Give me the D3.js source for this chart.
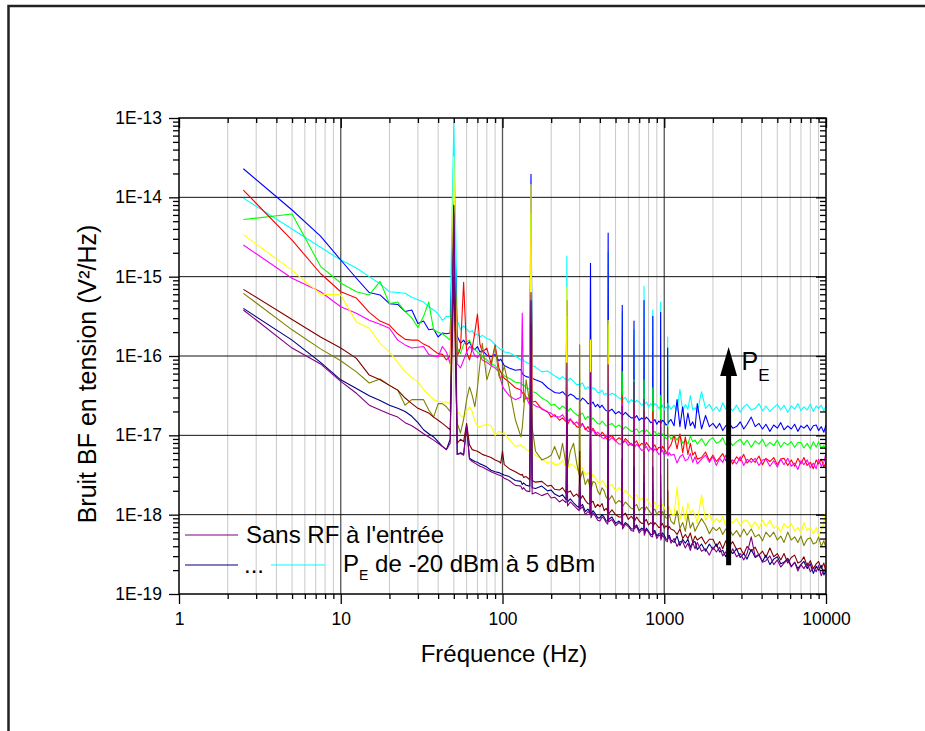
<!DOCTYPE html>
<html>
<head>
<meta charset="utf-8">
<script src="https://cdn.jsdelivr.net/npm/d3@7"></script>
<style>
  html, body { margin: 0; padding: 0; background: #fff; }
  svg { display: block; font-family: "Liberation Sans", Arial, Helvetica, sans-serif; }
</style>
</head>
<body>
<svg id="chart" width="925" height="731"></svg>
<script>
// ---------------- DATA (frequencies in Hz, spectra as log10 of V²/Hz) ----------------
const freqs = [
  2.5,5,7.5,10,12.5,15,17.5,20,22.5,25,27.5,30,32.5,35,37.5,40,42.5,45,47.5,50,52.5,55,57.5,60,62.5,65,67.5,70,72.5,75,80,85,90,95,97.5,100,102.5,
  110,120,130,132.5,135,140,147.5,150,152.5,160,
  175,190,200,210,225,235, 247.5,250,252.5,262.5,275,287.5, 297.5,300,302.5,312.5,325,337.5, 347.5,350,352.5,362.5,375,387.5, 400,412.5,425,437.5,
  447.5,450,452.5,475,500,525, 547.5,550,552.5,575,600,625, 647.5,650,652.5,675,700,725, 747.5,750,752.5,775,800,825,
  847.5,850,852.5,875,900,925, 947.5,950,952.5,975,1000,1025, 1047.5,1050,1052.5,1075,1100,
  1150,1200,1250,1300,1350,1400,1450,1500,1550,1600,1700,1800,1900,2000,2100,2200,2300,2400,2500,2650,2800,2950,3100,3250,3450,3650,3850,4050,4250,4500,4750,5000,5250,5500,5800,6100,6400,6700,7000,7300,7650,8000,8350,8700,9000,9350,9700,10000
];

// Sans RF à l'entrée
const logPurple = [
  -15.42,-15.90,-16.10,-16.32,-16.47,-16.62,-16.68,-16.73,-16.77,-16.84,-16.88,-16.93,-16.98,-17.02,-17.06,-17.10,-17.14,-17.18,-17.10,-14.20,-17.24,-17.23,-17.25,-16.89,-17.30,-17.33,-17.35,-17.37,-17.39,-17.40,-17.43,-17.46,-17.48,-17.50,-17.51,-17.52,-17.54,
  -17.57,-17.63,-17.64,-17.68,-17.66,-17.70,-17.71,-15.20,-17.74,-17.72,
  -17.76,-17.73,-17.79,-17.78,-17.84,-17.81, -17.85,-16.09,-17.89,-17.84,-17.88,-17.92, -17.95,-17.60,-17.93,-17.90,-18.00,-17.96, -17.99,-16.21,-18.04,-17.98,-18.02,-18.07, -18.08,-18.03,-18.05,-18.10,
  -18.12,-16.11,-18.09,-18.06,-18.14,-18.10, -18.13,-16.63,-18.18,-18.12,-18.15,-18.20, -18.21,-16.33,-18.18,-18.15,-18.23,-18.19, -18.20,-16.55,-18.26,-18.19,-18.22,-18.27,
  -18.28,-16.84,-18.25,-18.22,-18.30,-18.26, -18.27,-16.81,-18.32,-18.26,-18.29,-18.33, -18.34,-17.30,-18.31,-18.28,-18.36,
  -18.30,-18.40,-18.34,-18.34,-18.42,-18.36,-18.45,-18.35,-18.43,-18.35,-18.46,-18.43,-18.51,-18.41,-18.47,-18.41,-18.52,-18.47,-18.55,-18.43,-18.53,-18.49,-18.57,-18.49,-18.28,-18.53,-18.50,-18.60,-18.58,-18.52,-18.63,-18.57,-18.66,-18.61,-18.57,-18.66,-18.60,-18.71,-18.63,-18.68,-18.61,-18.72,-18.67,-18.72,-18.64,-18.77,-18.69,-18.73
];
// P_E = -20 dBm
const logNavy = [
  -15.40,-15.80,-16.08,-16.30,-16.41,-16.50,-16.56,-16.62,-16.66,-16.70,-16.76,-16.84,-16.93,-16.98,-17.02,-17.08,-17.14,-17.18,-17.05,-14.10,-17.24,-17.22,-17.24,-16.89,-17.29,-17.31,-17.33,-17.34,-17.36,-17.37,-17.40,-17.44,-17.46,-17.47,-17.48,-17.49,-17.50,
  -17.52,-17.57,-17.58,-17.62,-17.60,-17.63,-17.64,-15.30,-17.66,-17.67,
  -17.64,-17.70,-17.69,-17.74,-17.77,-17.75, -17.81,-16.80,-17.84,-17.80,-17.85,-17.89, -17.91,-17.50,-17.90,-17.87,-17.96,-17.93, -17.97,-16.90,-18.00,-17.95,-17.99,-18.04, -18.04,-18.00,-18.03,-18.08,
  -18.08,-17.00,-18.06,-18.03,-18.11,-18.08, -18.12,-17.30,-18.15,-18.10,-18.13,-18.18, -18.18,-17.40,-18.16,-18.13,-18.20,-18.17, -18.19,-17.60,-18.23,-18.17,-18.21,-18.25,
  -18.25,-17.70,-18.22,-18.20,-18.27,-18.24, -18.24,-17.80,-18.29,-18.23,-18.26,-18.31, -18.31,-17.90,-18.28,-18.26,-18.32,
  -18.35,-18.27,-18.39,-18.31,-18.36,-18.31,-18.41,-18.35,-18.34,-18.44,-18.37,-18.46,-18.37,-18.44,-18.37,-18.47,-18.45,-18.53,-18.43,-18.49,-18.43,-18.54,-18.49,-18.56,-18.44,-18.54,-18.51,-18.59,-18.51,-18.63,-18.56,-18.53,-18.62,-18.60,-18.55,-18.65,-18.60,-18.68,-18.63,-18.59,-18.68,-18.62,-18.74,-18.65,-18.70,-18.64,-18.76,-18.70
];
const logWine = [
  -15.16,-15.54,-15.76,-15.90,-16.03,-16.24,-16.30,-16.37,-16.43,-16.53,-16.60,-16.66,-16.69,-16.72,-16.77,-16.81,-16.85,-16.89,-16.93,-15.00,-17.10,-17.05,-17.08,-16.85,-17.12,-17.18,-17.19,-17.20,-17.22,-17.24,-17.26,-17.28,-17.31,-17.33,-17.35,-17.20,-17.37,
  -17.42,-17.46,-17.50,-17.49,-17.53,-17.52,-17.56,-15.60,-17.57,-17.59,
  -17.58,-17.64,-17.63,-17.68,-17.69,-17.66, -17.73,-16.50,-17.72,-17.70,-17.77,-17.74, -17.78,-17.20,-17.81,-17.76,-17.82,-17.86, -17.87,-16.60,-17.85,-17.83,-17.91,-17.87, -17.90,-17.86,-17.95,-17.92,
  -17.96,-16.70,-17.99,-17.94,-18.00,-18.03, -18.03,-16.90,-18.01,-17.98,-18.06,-18.02, -18.06,-17.00,-18.09,-18.03,-18.08,-18.11, -18.11,-17.20,-18.09,-18.06,-18.13,-18.10,
  -18.12,-17.40,-18.15,-18.10,-18.13,-18.16, -18.16,-17.50,-18.14,-18.11,-18.17,-18.14, -18.16,-17.70,-18.19,-18.15,-18.18,
  -18.20,-18.25,-18.18,-18.30,-18.25,-18.30,-18.23,-18.35,-18.27,-18.32,-18.28,-18.37,-18.31,-18.31,-18.40,-18.34,-18.43,-18.33,-18.41,-18.34,-18.44,-18.42,-18.50,-18.40,-18.46,-18.41,-18.51,-18.46,-18.54,-18.42,-18.53,-18.49,-18.57,-18.49,-18.61,-18.54,-18.51,-18.61,-18.59,-18.53,-18.65,-18.58,-18.68,-18.62,-18.59,-18.68,-18.61,-18.73
];
const logOlive = [
  -15.21,-15.67,-15.91,-16.06,-16.20,-16.34,-16.29,-16.37,-16.43,-16.62,-16.55,-16.55,-16.55,-16.68,-16.77,-16.60,-16.60,-16.64,-16.70,-14.80,-16.85,-16.97,-16.80,-16.55,-16.39,-16.50,-16.64,-16.40,-16.10,-15.84,-16.30,-16.13,-15.88,-16.25,-16.30,-16.20,-16.13,
  -16.40,-16.80,-17.02,-16.90,-16.70,-16.30,-16.60,-15.97,-16.90,-17.20,
  -17.31,-17.28,-17.25,-17.14,-17.30,-17.10, -17.38,-16.90,-17.40,-17.20,-17.10,-17.35, -17.50,-15.86,-17.55,-17.45,-17.62,-17.55, -17.66,-16.90,-17.68,-17.58,-17.60,-17.70, -17.75,-17.66,-17.70,-17.78,
  -17.80,-17.00,-17.82,-17.76,-17.86,-17.82, -17.85,-17.30,-17.90,-17.84,-17.88,-17.92, -17.93,-17.40,-17.90,-17.87,-17.95,-17.91, -17.92,-17.50,-17.97,-17.90,-17.94,-17.98,
  -17.99,-17.60,-17.95,-17.93,-18.00,-17.96, -17.97,-17.60,-18.02,-17.96,-18.00,-18.04, -18.05,-17.70,-18.02,-18.00,-18.08,
  -18.12,-17.95,-18.17,-18.10,-18.21,-18.00,-18.17,-18.10,-18.21,-18.15,-18.05,-18.13,-18.24,-18.16,-18.20,-18.16,-18.25,-18.18,-18.17,-18.26,-18.20,-18.28,-18.18,-18.26,-18.18,-18.28,-18.25,-18.33,-18.22,-18.28,-18.22,-18.32,-18.27,-18.35,-18.22,-18.32,-18.28,-18.35,-18.27,-18.39,-18.31,-18.29,-18.37,-18.35,-18.28,-18.40,-18.33,-18.42
];
const logYellow = [
  -14.47,-14.92,-15.22,-15.23,-15.57,-15.65,-15.84,-15.95,-16.08,-16.20,-16.27,-16.33,-16.42,-16.49,-16.55,-16.57,-16.58,-16.58,-16.60,-13.49,-16.70,-16.75,-16.78,-16.70,-16.64,-16.70,-16.82,-16.88,-16.90,-16.88,-16.86,-16.88,-17.00,-16.95,-16.96,-16.98,-16.97,
  -17.05,-17.14,-17.12,-17.15,-17.14,-17.18,-17.20,-13.84,-17.22,-17.25,
  -17.30,-17.35,-17.33,-17.37,-17.36,-17.32, -17.40,-15.13,-17.41,-17.36,-17.38,-17.43, -17.46,-17.20,-17.43,-17.41,-17.50,-17.47, -17.50,-15.80,-17.55,-17.49,-17.54,-17.58, -17.62,-17.57,-17.60,-17.65,
  -17.67,-15.55,-17.64,-17.62,-17.70,-17.66, -17.70,-16.80,-17.75,-17.69,-17.74,-17.78, -17.80,-17.00,-17.77,-17.75,-17.83,-17.79, -17.82,-17.10,-17.87,-17.80,-17.84,-17.89,
  -17.90,-17.20,-17.87,-17.84,-17.92,-17.88, -17.89,-17.30,-17.94,-17.87,-17.91,-17.96, -17.97,-17.40,-17.93,-17.90,-17.98,
  -18.01,-17.65,-18.06,-17.90,-18.08,-17.85,-17.98,-17.95,-18.00,-18.11,-17.75,-18.07,-17.99,-18.11,-18.05,-18.10,-18.02,-18.14,-18.06,-18.10,-18.05,-18.14,-18.07,-18.07,-18.16,-18.09,-18.18,-18.07,-18.15,-18.07,-18.17,-18.14,-18.22,-18.11,-18.17,-18.11,-18.21,-18.16,-18.23,-18.10,-18.20,-18.16,-18.24,-18.16,-18.27,-18.19,-18.10,-17.92
];
const logRed = [
  -13.91,-14.54,-14.96,-15.19,-15.27,-15.45,-15.56,-15.61,-15.72,-15.79,-15.80,-15.80,-15.85,-15.88,-15.93,-15.97,-15.98,-16.05,-16.00,-14.50,-16.00,-15.90,-15.07,-15.95,-16.05,-15.90,-15.70,-15.47,-15.85,-15.95,-15.90,-16.10,-15.86,-16.15,-16.20,-16.25,-16.28,
  -16.33,-16.40,-16.43,-16.47,-16.46,-16.52,-16.55,-14.50,-16.58,-16.57,
  -16.67,-16.70,-16.77,-16.74,-16.81,-16.78, -16.83,-15.80,-16.86,-16.80,-16.84,-16.89, -16.90,-16.70,-16.87,-16.85,-16.93,-16.89, -16.94,-16.00,-16.97,-16.91,-16.96,-17.00, -17.01,-16.96,-16.99,-17.04,
  -17.05,-16.00,-17.03,-17.00,-17.07,-17.03, -17.06,-16.50,-17.10,-17.04,-17.08,-17.12, -17.13,-16.60,-17.10,-17.07,-17.14,-17.10, -17.12,-16.70,-17.16,-17.09,-17.13,-17.17,
  -17.18,-16.70,-17.15,-17.12,-17.19,-17.15, -17.16,-16.80,-17.20,-17.14,-17.17,-17.21, -17.22,-16.90,-17.18,-17.15,-17.12,
  -17.00,-17.17,-16.98,-17.22,-17.02,-17.24,-17.10,-17.25,-17.21,-17.30,-17.28,-17.21,-17.32,-17.25,-17.33,-17.28,-17.23,-17.32,-17.25,-17.36,-17.27,-17.32,-17.24,-17.35,-17.29,-17.34,-17.26,-17.37,-17.29,-17.33,-17.28,-17.37,-17.30,-17.29,-17.38,-17.31,-17.39,-17.29,-17.36,-17.28,-17.38,-17.34,-17.42,-17.31,-17.36,-17.30,-17.40,-17.34
];
const logMagenta = [
  -14.60,-15.02,-15.19,-15.38,-15.46,-15.55,-15.60,-15.65,-15.80,-15.86,-15.90,-15.89,-15.88,-15.98,-16.00,-16.01,-15.88,-15.95,-16.10,-14.60,-16.10,-16.15,-16.05,-15.95,-15.88,-15.92,-16.00,-16.02,-15.98,-16.05,-16.08,-16.12,-16.15,-16.20,-16.30,-16.38,-16.42,
  -16.50,-16.55,-16.52,-15.46,-16.58,-16.52,-16.62,-14.60,-16.60,-16.63,
  -16.66,-16.71,-16.72,-16.76,-16.77,-16.74, -16.81,-16.00,-16.82,-16.79,-16.86,-16.83, -16.87,-16.60,-16.90,-16.86,-16.91,-16.95, -16.95,-16.10,-16.95,-16.92,-16.99,-16.96, -16.99,-17.03,-17.04,-17.00,
  -17.04,-16.30,-17.07,-17.03,-17.07,-17.11, -17.11,-16.60,-17.10,-17.07,-17.13,-17.10, -17.13,-16.70,-17.16,-17.11,-17.15,-17.19, -17.18,-16.80,-17.17,-17.14,-17.20,-17.16,
  -17.19,-16.80,-17.21,-17.17,-17.20,-17.24, -17.23,-16.90,-17.21,-17.19,-17.25,-17.22, -17.24,-17.00,-17.26,-17.22,-17.25,
  -17.24,-17.35,-17.27,-17.24,-17.32,-17.30,-17.23,-17.34,-17.27,-17.36,-17.30,-17.25,-17.34,-17.27,-17.38,-17.29,-17.34,-17.25,-17.36,-17.31,-17.36,-17.27,-17.38,-17.30,-17.34,-17.29,-17.38,-17.31,-17.30,-17.39,-17.32,-17.40,-17.30,-17.37,-17.29,-17.39,-17.35,-17.43,-17.32,-17.37,-17.31,-17.41,-17.35,-17.42,-17.30,-17.39,-17.34,-17.22
];
const logGreen = [
  -14.28,-14.21,-14.87,-15.08,-15.19,-15.23,-15.06,-15.34,-15.32,-15.44,-15.52,-15.64,-15.50,-15.32,-15.67,-15.70,-15.72,-15.76,-15.80,-14.30,-15.90,-15.97,-15.85,-15.82,-15.80,-15.88,-15.92,-15.95,-15.98,-16.01,-16.05,-16.10,-16.12,-16.18,-16.20,-16.22,-16.25,
  -16.28,-16.33,-16.34,-16.37,-16.36,-16.40,-16.42,-14.20,-16.45,-16.46,
  -16.53,-16.57,-16.62,-16.61,-16.67,-16.63, -16.67,-15.50,-16.70,-16.66,-16.71,-16.74, -16.76,-16.70,-16.74,-16.72,-16.80,-16.76, -16.79,-15.80,-16.82,-16.78,-16.82,-16.85, -16.86,-16.82,-16.85,-16.88,
  -16.88,-15.60,-16.87,-16.85,-16.90,-16.87, -16.90,-16.20,-16.93,-16.89,-16.92,-16.95, -16.95,-16.30,-16.94,-16.92,-16.97,-16.94, -16.95,-16.30,-16.98,-16.93,-16.96,-16.99,
  -16.99,-16.40,-16.97,-16.95,-17.00,-16.97, -16.99,-16.50,-17.01,-16.98,-17.01,-17.04, -17.04,-16.60,-17.02,-17.00,-17.05,
  -17.00,-17.06,-17.00,-17.10,-17.06,-17.11,-17.01,-17.08,-17.06,-17.11,-17.04,-17.13,-17.06,-17.03,-17.10,-17.08,-17.03,-17.12,-17.06,-17.13,-17.08,-17.05,-17.12,-17.06,-17.15,-17.07,-17.11,-17.05,-17.14,-17.09,-17.13,-17.06,-17.15,-17.09,-17.12,-17.08,-17.15,-17.09,-17.09,-17.16,-17.10,-17.17,-17.08,-17.15,-17.08,-17.16,-17.13,-17.19
];
const logBlue = [
  -13.64,-14.16,-14.49,-14.79,-15.02,-15.20,-15.23,-15.34,-15.35,-15.44,-15.42,-15.59,-15.56,-15.67,-15.66,-15.76,-15.71,-15.72,-15.71,-14.05,-15.75,-15.84,-15.80,-15.86,-15.82,-15.90,-15.92,-15.88,-15.95,-15.93,-15.99,-16.01,-15.98,-16.06,-16.04,-16.08,-16.12,
  -16.15,-16.18,-16.17,-16.22,-16.24,-16.26,-16.27,-13.71,-16.28,-16.30,
  -16.33,-16.40,-16.43,-16.46,-16.47,-16.45, -16.50,-15.30,-16.51,-16.48,-16.50,-16.54, -16.54,-16.55,-16.57,-16.53,-16.56,-16.60, -16.60,-14.83,-16.61,-16.58,-16.64,-16.61, -16.65,-16.62,-16.66,-16.69,
  -16.69,-14.45,-16.70,-16.67,-16.73,-16.70, -16.74,-15.36,-16.75,-16.71,-16.75,-16.78, -16.78,-15.56,-16.79,-16.75,-16.81,-16.78, -16.80,-15.30,-16.81,-16.77,-16.80,-16.84,
  -16.83,-15.50,-16.83,-16.80,-16.86,-16.82, -16.84,-15.45,-16.85,-16.81,-16.83,-16.87, -16.86,-15.90,-16.86,-16.82,-16.80,
  -16.88,-16.55,-16.89,-16.64,-16.92,-16.72,-16.88,-16.83,-16.91,-16.60,-16.92,-16.75,-16.89,-16.85,-16.91,-16.85,-16.94,-16.88,-16.84,-16.91,-16.89,-16.83,-16.92,-16.86,-16.77,-16.89,-16.85,-16.92,-16.86,-16.95,-16.87,-16.91,-16.84,-16.93,-16.88,-16.92,-16.86,-16.95,-16.88,-16.91,-16.87,-16.94,-16.88,-16.87,-16.94,-16.89,-16.96,-16.87
];
// P_E = 5 dBm
const logCyan = [
  -14.01,-14.40,-14.63,-14.79,-14.89,-15.00,-15.09,-15.19,-15.20,-15.21,-15.26,-15.29,-15.32,-15.38,-15.42,-15.47,-15.55,-15.50,-15.50,-13.06,-15.55,-15.67,-15.62,-15.66,-15.70,-15.68,-15.74,-15.72,-15.76,-15.74,-15.78,-15.80,-15.86,-15.90,-15.92,-15.91,-15.95,
  -15.96,-16.00,-16.05,-16.02,-16.06,-16.08,-16.10,-14.40,-16.12,-16.14,
  -16.20,-16.19,-16.22,-16.25,-16.29,-16.26, -16.30,-14.74,-16.31,-16.28,-16.32,-16.36, -16.36,-16.37,-16.36,-16.34,-16.42,-16.39, -16.42,-14.92,-16.42,-16.40,-16.42,-16.46, -16.46,-16.43,-16.49,-16.47,
  -16.49,-14.69,-16.50,-16.47,-16.49,-16.53, -16.54,-15.44,-16.55,-16.52,-16.59,-16.55, -16.58,-15.67,-16.59,-16.56,-16.58,-16.62, -16.60,-15.12,-16.61,-16.58,-16.64,-16.60,
  -16.63,-15.42,-16.63,-16.60,-16.62,-16.66, -16.64,-15.32,-16.65,-16.62,-16.68,-16.64, -16.66,-15.76,-16.66,-16.63,-16.67,
  -16.62,-16.69,-16.42,-16.70,-16.61,-16.67,-16.50,-16.68,-16.65,-16.71,-16.45,-16.66,-16.61,-16.69,-16.64,-16.70,-16.59,-16.67,-16.63,-16.69,-16.62,-16.71,-16.64,-16.61,-16.68,-16.66,-16.60,-16.69,-16.63,-16.70,-16.65,-16.61,-16.68,-16.62,-16.71,-16.63,-16.67,-16.60,-16.69,-16.64,-16.68,-16.61,-16.70,-16.63,-16.66,-16.62,-16.69,-16.63
];

// drawing order (first = bottom) and colours
const seriesLogs   = [logCyan, logBlue, logGreen, logRed, logMagenta, logYellow, logOlive, logWine, logNavy, logPurple];
const seriesColors = ["#00FFFF", "#0000FF", "#00FF00", "#FF0000", "#FF00FF", "#FFFF00", "#808000", "#800000", "#000080", "#800080"];

const xMajorTicks = [1, 10, 100, 1000, 10000];
const yMajorTicks = [1e-19, 1e-18, 1e-17, 1e-16, 1e-15, 1e-14, 1e-13];

// ---------------- LAYOUT ----------------
const L = 179, R = 826, T = 118, B = 594;
const svg = d3.select("#chart");

const x = d3.scaleLog().domain([1, 10000]).range([L, R]);
const y = d3.scaleLog().domain([1e-19, 1e-13]).range([B, T]);

const xMinor = [];
for (let k = 0; k < 4; k++) for (let m = 2; m <= 9; m++) xMinor.push(m * Math.pow(10, k));
const yMinor = [];
for (let k = -19; k < -13; k++) for (let m = 2; m <= 9; m++) yMinor.push(m * Math.pow(10, k));

// outer page frame
svg.append("rect").attr("x", 8.5).attr("y", 6).attr("width", 2000).attr("height", 2000)
  .attr("fill", "none").attr("stroke", "#222").attr("stroke-width", 2.5);

// grid
const grid = svg.append("g");
grid.selectAll("line.vmin").data(xMinor).join("line")
  .attr("x1", d => x(d)).attr("x2", d => x(d)).attr("y1", T).attr("y2", B)
  .attr("stroke", "#c8c8c8").attr("stroke-width", 1);
grid.selectAll("line.vmaj").data([10, 100, 1000]).join("line")
  .attr("x1", d => x(d)).attr("x2", d => x(d)).attr("y1", T).attr("y2", B)
  .attr("stroke", "#555").attr("stroke-width", 1.3);
grid.selectAll("line.hmaj").data([1e-18, 1e-17, 1e-16, 1e-15, 1e-14]).join("line")
  .attr("x1", L).attr("x2", R).attr("y1", d => y(d)).attr("y2", d => y(d))
  .attr("stroke", "#111").attr("stroke-width", 1);

// series
svg.append("clipPath").attr("id", "clip").append("rect")
  .attr("x", L).attr("y", T).attr("width", R - L).attr("height", B - T);
const line = d3.line().x(d => x(d[0])).y(d => y(d[1]));
const plot = svg.append("g").attr("clip-path", "url(#clip)");
seriesLogs.forEach((arr, i) => {
  const n = Math.min(arr.length, freqs.length);
  const pts = [];
  for (let j = 0; j < n; j++) pts.push([freqs[j], Math.pow(10, arr[j])]);
  plot.append("path").datum(pts).attr("d", line)
    .attr("fill", "none").attr("stroke", seriesColors[i]).attr("stroke-width", 1.1)
    .attr("stroke-linejoin", "round");
});

// axes
const fmtY = d => "1E" + Math.round(Math.log10(d));
const fmtX = d => String(d);
function styleAxis(g) {
  g.select(".domain").remove();
  g.selectAll(".tick line").attr("stroke", "#000").attr("stroke-width", 1.3);
  g.selectAll(".tick text").attr("fill", "#000").attr("font-size", "17.5px")
    .attr("font-family", "'Liberation Sans', Arial, sans-serif");
}
// bottom
svg.append("g").attr("transform", `translate(0,${B})`)
  .call(d3.axisBottom(x).tickValues(xMinor).tickSize(5).tickFormat(""))
  .call(styleAxis);
svg.append("g").attr("transform", `translate(0,${B})`)
  .call(d3.axisBottom(x).tickValues(xMajorTicks).tickSize(10).tickPadding(9).tickFormat(fmtX))
  .call(styleAxis);
// top (inward)
svg.append("g").attr("transform", `translate(0,${T})`)
  .call(d3.axisTop(x).tickValues(xMinor).tickSize(-5).tickFormat(""))
  .call(styleAxis);
svg.append("g").attr("transform", `translate(0,${T})`)
  .call(d3.axisTop(x).tickValues(xMajorTicks).tickSize(-10).tickFormat(""))
  .call(styleAxis);
// left
svg.append("g").attr("transform", `translate(${L},0)`)
  .call(d3.axisLeft(y).tickValues(yMinor).tickSize(6).tickFormat(""))
  .call(styleAxis);
svg.append("g").attr("transform", `translate(${L},0)`)
  .call(d3.axisLeft(y).tickValues(yMajorTicks).tickSize(10).tickPadding(7).tickFormat(fmtY))
  .call(styleAxis);
// right (inward)
svg.append("g").attr("transform", `translate(${R},0)`)
  .call(d3.axisRight(y).tickValues(yMinor).tickSize(-6).tickFormat(""))
  .call(styleAxis);
svg.append("g").attr("transform", `translate(${R},0)`)
  .call(d3.axisRight(y).tickValues(yMajorTicks).tickSize(-10).tickFormat(""))
  .call(styleAxis);

// plot frame
svg.append("rect").attr("x", L).attr("y", T).attr("width", R - L).attr("height", B - T)
  .attr("fill", "none").attr("stroke", "#000").attr("stroke-width", 1.5);

// axis titles
svg.append("text").attr("x", 504).attr("y", 662).attr("text-anchor", "middle")
  .attr("font-size", "24px").attr("fill", "#000").text("Fréquence (Hz)");
svg.append("text").attr("transform", "translate(96,374) rotate(-90)").attr("text-anchor", "middle")
  .attr("font-size", "25px").attr("fill", "#000").text("Bruit BF en tension (V²/Hz)");

// legend
const leg = svg.append("g");
leg.append("line").attr("x1", 185).attr("x2", 238).attr("y1", 535).attr("y2", 535)
  .attr("stroke", "#800080").attr("stroke-width", 1.2);
leg.append("text").attr("x", 246).attr("y", 543).attr("font-size", "24px").attr("fill", "#000")
  .text("Sans RF à l'entrée");
leg.append("line").attr("x1", 185).attr("x2", 238).attr("y1", 565).attr("y2", 565)
  .attr("stroke", "#000080").attr("stroke-width", 1.2);
leg.append("text").attr("x", 244).attr("y", 573).attr("font-size", "24px").attr("fill", "#000").text("...");
leg.append("line").attr("x1", 271).attr("x2", 325).attr("y1", 565).attr("y2", 565)
  .attr("stroke", "#00FFFF").attr("stroke-width", 1.2);
const lt = leg.append("text").attr("x", 343).attr("y", 572).attr("font-size", "24px").attr("fill", "#000");
lt.append("tspan").text("P");
lt.append("tspan").attr("font-size", "14px").attr("dy", 8).text("E");
lt.append("tspan").attr("dy", -8).text(" de -20 dBm à 5 dBm");

// P_E arrow
const ax = x(2500);
svg.append("line").attr("x1", ax).attr("x2", ax).attr("y1", y(2.3e-19)).attr("y2", y(6.5e-17))
  .attr("stroke", "#000").attr("stroke-width", 5);
const tipY = y(1.3e-16);
svg.append("path")
  .attr("d", `M${ax - 8.5},${tipY + 29} L${ax},${tipY} L${ax + 8.5},${tipY + 29} Z`)
  .attr("fill", "#000");
const pe = svg.append("text").attr("x", ax + 13).attr("y", 370).attr("font-size", "25px").attr("fill", "#000");
pe.append("tspan").text("P");
pe.append("tspan").attr("font-size", "17px").attr("dy", 11).text("E");
</script>
</body>
</html>
